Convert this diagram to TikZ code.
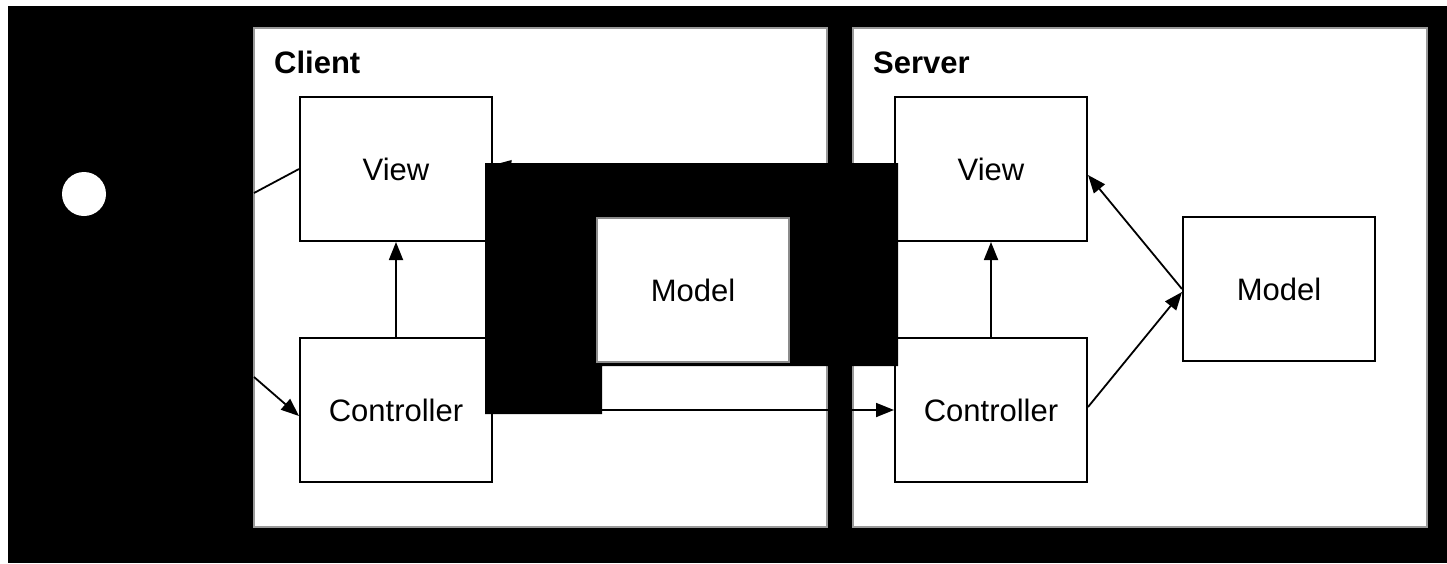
\documentclass[tikz,border=0pt]{standalone}
\usepackage{fontspec}
\setmainfont{Liberation Sans}
\usetikzlibrary{arrows.meta}
\begin{document}
\begin{tikzpicture}[x=1pt,y=-1pt,
  every node/.style={font=\fontsize{31}{37}\selectfont},
  panel/.style={draw=black!40, line width=2pt, fill=white, minimum width=573pt, minimum height=499pt, inner sep=0pt},
  mvcbox/.style={draw=black, line width=2pt, fill=white, minimum width=192pt, minimum height=144pt, inner sep=0pt},
  title/.style={anchor=base west, inner sep=0pt, font=\fontsize{31}{37}\selectfont\bfseries},
  link/.style={draw=black, line width=1.8pt},
  arr/.style={link, -{Triangle[length=18pt,width=14pt]}},
  mask/.style={fill=black}
]
\useasboundingbox (0,0) rectangle (1447,563);
\fill[white] (0,0) rectangle (1447,563);
\fill[black] (8,6) rectangle (1447,563);

% actor
\node[circle, fill=white, minimum size=44pt, inner sep=0pt] (actor) at (84,194) {};

% the two tiers
\node[panel] (client) at (540.5,277.5) {};
\node[panel, minimum width=574pt] (server) at (1140,277.5) {};
\node[title] (clientlbl) at (274,73) {Client};
\node[title] (serverlbl) at (873,73) {Server};

% client side
\node[mvcbox] (cv) at (396,169) {View};
\node[mvcbox] (cc) at (396,410) {Controller};

% server side
\node[mvcbox] (sv) at (991,169) {View};
\node[mvcbox] (sc) at (991,410) {Controller};
\node[mvcbox] (sm) at (1279,289) {Model};

% incoming user lines
\coordinate (inA) at (254,193);
\coordinate (inB) at (254,377);
\draw[link] (inA) -- (cv.west);
\draw[arr] (inB) -- ([yshift=-6pt]cc.west);

% client connectors
\coordinate (hid) at (600,178);
\draw[arr] (hid) -- ([yshift=4pt]cv.east);
\draw[arr] (cc.north) -- (cv.south);
\draw[arr] (cc.east) -- (sc.west);

% server connectors
\draw[arr] (sc.north) -- (sv.south);
\draw[arr] (sm.west) -- ([yshift=-6pt]sv.east);
\draw[arr] ([yshift=3pt]sc.east) -- ([yshift=-3pt]sm.west);

% covering block
\fill[mask] (485,163) -- (898,163) -- (898,366) -- (602,366) -- (602,414) -- (485,414) -- cycle;

% shared model
\node[mvcbox, draw=black!45] (cm) at (693,290) {Model};
\end{tikzpicture}
\end{document}
